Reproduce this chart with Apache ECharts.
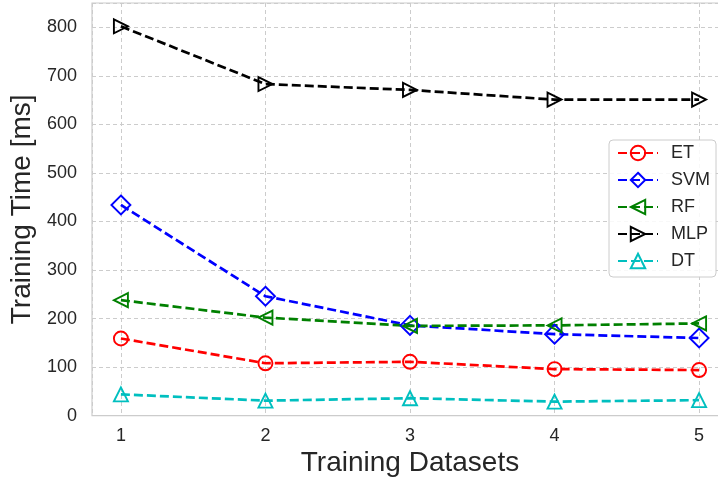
<!DOCTYPE html>
<html>
<head>
<meta charset="utf-8">
<script src="https://cdn.jsdelivr.net/npm/echarts@6/dist/echarts.min.js"></script>
<style>
  html, body { margin: 0; padding: 0; background: #fff; }
  #chart { width: 718px; height: 481px; }
</style>
</head>
<body>
<div id="chart"></div>
<script>
// Training time (ms) per model across five training datasets
const datasets = [1, 2, 3, 4, 5];
const etTime  = [159, 108, 111, 96, 94];
const svmTime = [434, 246, 186, 168, 160];
const rfTime  = [238, 202, 185, 186, 190];
const mlpTime = [802, 683, 671, 651, 651];
const dtTime  = [44, 31, 36, 29, 32];

const FONT = "'Liberation Sans', Arial, sans-serif";
const TEXT = '#262626';

// open marker shapes (centered in their bounding box)
const triRight = 'path://M0,0 L10,5 L0,10 Z';
const triLeft  = 'path://M10,0 L0,5 L10,10 Z';
const triUp    = 'path://M5,0 L10,10 L0,10 Z';

function pairs(ys) { return datasets.map((x, i) => [x, ys[i]]); }

function makeSeries(name, ys, color, symbol, size) {
  return {
    name: name,
    type: 'line',
    data: pairs(ys),
    symbol: symbol,
    symbolSize: size,
    symbolKeepAspect: true,
    showAllSymbol: true,
    lineStyle: { color: color, width: 2.7, type: [9, 4] },
    itemStyle: { color: 'rgba(255,255,255,0)', borderColor: color, borderWidth: 1.9 },
    emphasis: { disabled: true },
    animation: false
  };
}

const chart = echarts.init(document.getElementById('chart'), null, { renderer: 'canvas' });
chart.setOption({
  animation: false,
  backgroundColor: '#fff',
  grid: {
    left: 92, top: 3, right: -10, bottom: 65.3,
    outerBoundsMode: 'none',
    show: true, borderColor: '#cccccc', borderWidth: 1.2, backgroundColor: '#fff'
  },
  xAxis: {
    type: 'value', min: 0.8, max: 5.2, splitNumber: 4,
    name: 'Training Datasets', nameLocation: 'middle', nameGap: 31,
    nameTextStyle: { fontFamily: FONT, fontSize: 28, color: TEXT },
    axisLine: { show: false }, axisTick: { show: false },
    axisLabel: { fontFamily: FONT, fontSize: 18, color: TEXT, margin: 11,
                 showMinLabel: false, showMaxLabel: false },
    splitLine: { show: true, lineStyle: { color: '#cccccc', width: 1, type: [4, 3] } }
  },
  yAxis: {
    type: 'value', min: 0, max: 850, interval: 100,
    name: 'Training Time [ms]', nameLocation: 'middle', nameGap: 46, nameRotate: 90,
    nameTextStyle: { fontFamily: FONT, fontSize: 28, color: TEXT },
    axisLine: { show: false }, axisTick: { show: false },
    axisLabel: { fontFamily: FONT, fontSize: 18, color: TEXT, margin: 15, showMaxLabel: false },
    splitLine: { show: true, lineStyle: { color: '#cccccc', width: 1, type: [4, 3] } }
  },
  legend: {
    left: 609, top: 140, orient: 'vertical',
    itemWidth: 40, itemHeight: 18, itemGap: 9,
    padding: [4, 6, 7, 8],
    backgroundColor: 'rgba(255,255,255,0.85)',
    borderColor: '#cccccc', borderWidth: 1, borderRadius: 4,
    textStyle: { fontFamily: FONT, fontSize: 18, color: TEXT, padding: [0, 0, 0, 8] },
    data: ['ET', 'SVM', 'RF', 'MLP', 'DT']
  },
  series: [
    makeSeries('ET', etTime, '#ff0000', 'circle', 14),
    makeSeries('SVM', svmTime, '#0000ff', 'diamond', 19),
    makeSeries('RF', rfTime, '#008000', triLeft, 14),
    makeSeries('MLP', mlpTime, '#000000', triRight, 14),
    makeSeries('DT', dtTime, '#00bfbf', triUp, 14)
  ]
});
</script>
</body>
</html>
